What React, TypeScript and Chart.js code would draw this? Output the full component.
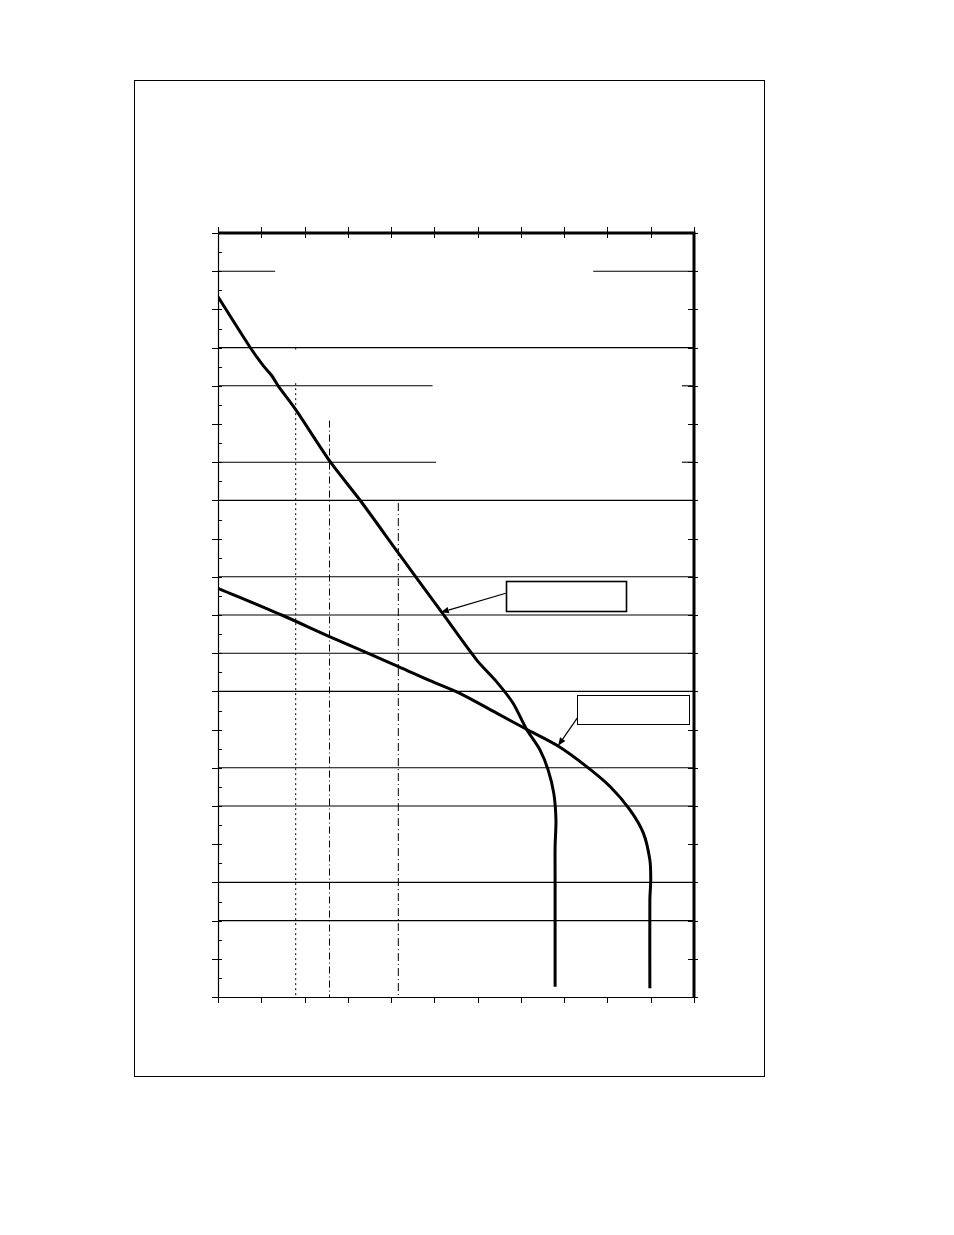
import React, { useEffect, useRef } from "react";
import { Chart, registerables } from "chart.js";

Chart.register(...registerables);

// ---- axes ----
const xMin = 0;
const xMax = 11;
const yMin = 0;
const yMax = 20;
const xMajorTicks = [0, 1, 2, 3, 4, 5, 6, 7, 8, 9, 10, 11];
const yMajorTicks = [0, 1, 2, 3, 4, 5, 6, 7, 8, 9, 10, 11, 12, 13, 14, 15, 16, 17, 18, 19, 20];
const yMinorTicks = [0.5, 1.5, 2.5, 3.5, 4.5, 5.5, 6.5, 7.5, 8.5, 9.5, 10.5, 11.5, 12.5, 13.5, 14.5, 15.5, 16.5, 17.5, 18.5, 19.5];

// ---- curve A (steep) ----
const curveAX = [0.0, 0.74, 1.05, 1.24, 1.39, 1.8, 2.6, 3.28, 4.17, 5.19, 5.98, 6.44, 6.82, 7.13, 7.44, 7.63, 7.76, 7.81, 7.79, 7.79, 7.79];
const curveAY = [1.67, 2.99, 3.48, 3.73, 4.0, 4.63, 6.0, 6.99, 8.38, 9.96, 11.18, 11.75, 12.31, 12.99, 13.53, 14.06, 14.67, 15.37, 16.07, 16.94, 19.73];

// ---- curve B (flatter) ----
const curveBX = [0.0, 1.47, 2.59, 4.17, 4.9, 5.59, 6.44, 7.13, 7.86, 8.52, 9.06, 9.52, 9.83, 9.98, 10.0, 9.98, 9.98];
const curveBY = [9.3, 10.0, 10.57, 11.35, 11.72, 12.05, 12.57, 12.99, 13.43, 13.97, 14.49, 15.1, 15.71, 16.41, 16.94, 17.46, 19.77];

// ---- vertical reference lines ----
const vLineX = [1.796, 1.796, 2.577, 4.167];
const vLineFrom = [3.0, 3.93, 4.91, 7.07];
const vLineTo = [3.09, 20, 20, 20];

// ---- horizontal reference lines ----
const hLineY = [1, 1, 3, 4, 4, 6, 6, 7, 9, 10, 11, 12, 14, 15, 17, 18];
const hLineFrom = [0, 8.67, 0, 0, 10.72, 0, 10.72, 0, 0, 0, 0, 0, 0, 0, 0, 0];
const hLineTo = [1.32, 11, 11, 4.96, 11, 5.04, 11, 11, 11, 11, 11, 11, 11, 11, 11, 11];

// ---- callout boxes and arrows ----
const boxX1 = [6.65, 8.3];
const boxX2 = [9.42, 10.89];
const boxY1 = [9.1, 12.1];
const boxY2 = [9.88, 12.86];
const arrowFromX = [6.65, 8.3];
const arrowFromY = [9.43, 12.7];
const arrowToX = [5.15, 7.86];
const arrowToY = [9.93, 13.42];

const vDashes = [[2, 3], [2, 3], [7, 3, 1, 3], [8, 3, 1, 3]];
const boxWidths = [1.6, 1];

const frameAndTicks = {
  id: "frameAndTicks",
  afterDatasetsDraw(chart: any) {
    const ctx = chart.ctx;
    const xs = chart.scales.x;
    const ys = chart.scales.y;
    const L = xs.getPixelForValue(xMin);
    const R = xs.getPixelForValue(xMax);
    const T = ys.getPixelForValue(yMin);
    const B = ys.getPixelForValue(yMax);
    const s = (v: number) => Math.round(v) + 0.5;
    ctx.save();
    ctx.strokeStyle = "#000";
    ctx.fillStyle = "#000";

    // thin left and bottom axes
    ctx.lineWidth = 1.2;
    ctx.beginPath();
    ctx.moveTo(s(L), T);
    ctx.lineTo(s(L), B);
    ctx.moveTo(L, s(B));
    ctx.lineTo(R, s(B));
    ctx.stroke();

    // thick top and right axes
    ctx.lineWidth = 3;
    ctx.beginPath();
    ctx.moveTo(L, T);
    ctx.lineTo(R + 1.5, T);
    ctx.moveTo(R, T - 1.5);
    ctx.lineTo(R, B);
    ctx.stroke();

    ctx.lineWidth = 1;
    ctx.beginPath();
    xMajorTicks.forEach((v) => {
      const px = s(xs.getPixelForValue(v));
      ctx.moveTo(px, T - 6);
      ctx.lineTo(px, T + 5);
      ctx.moveTo(px, B);
      ctx.lineTo(px, B + 6);
    });
    yMajorTicks.forEach((v) => {
      const py = s(ys.getPixelForValue(v));
      ctx.moveTo(L - 6, py);
      ctx.lineTo(L + 4, py);
      ctx.moveTo(R - 6, py);
      ctx.lineTo(R + 4, py);
    });
    yMinorTicks.forEach((v) => {
      const py = s(ys.getPixelForValue(v));
      ctx.moveTo(L, py);
      ctx.lineTo(L + 4, py);
    });
    ctx.stroke();

    // callouts
    boxX1.forEach((_, i) => {
      const x1 = xs.getPixelForValue(boxX1[i]);
      const x2 = xs.getPixelForValue(boxX2[i]);
      const y1 = ys.getPixelForValue(boxY1[i]);
      const y2 = ys.getPixelForValue(boxY2[i]);
      ctx.fillStyle = "#fff";
      ctx.fillRect(x1, y1, x2 - x1, y2 - y1);
      ctx.lineWidth = boxWidths[i];
      ctx.strokeRect(s(x1), s(y1), Math.round(x2 - x1), Math.round(y2 - y1));

      const ax = xs.getPixelForValue(arrowFromX[i]);
      const ay = ys.getPixelForValue(arrowFromY[i]);
      const tx = xs.getPixelForValue(arrowToX[i]);
      const ty = ys.getPixelForValue(arrowToY[i]);
      const ang = Math.atan2(ty - ay, tx - ax);
      const len = 8;
      const hw = 3.2;
      const bx = tx - len * Math.cos(ang);
      const by = ty - len * Math.sin(ang);
      ctx.lineWidth = 1.2;
      ctx.beginPath();
      ctx.moveTo(ax, ay);
      ctx.lineTo(bx, by);
      ctx.stroke();
      ctx.fillStyle = "#000";
      ctx.beginPath();
      ctx.moveTo(tx, ty);
      ctx.lineTo(bx + hw * Math.sin(ang), by - hw * Math.cos(ang));
      ctx.lineTo(bx - hw * Math.sin(ang), by + hw * Math.cos(ang));
      ctx.closePath();
      ctx.fill();
    });
    ctx.restore();
  },
};

function ChartView() {
  const ref = useRef<HTMLCanvasElement | null>(null);
  useEffect(() => {
    if (!ref.current) return;
    const datasets: any[] = [];
    hLineY.forEach((y, i) => {
      datasets.push({
        label: "h" + i,
        data: [
          { x: hLineFrom[i], y },
          { x: hLineTo[i], y },
        ],
        showLine: true,
        borderColor: "#000",
        borderWidth: 1.1,
        pointRadius: 0,
        clip: 4,
      });
    });
    vLineX.forEach((x, i) => {
      datasets.push({
        label: "v" + i,
        data: [
          { x, y: vLineFrom[i] },
          { x, y: vLineTo[i] },
        ],
        showLine: true,
        borderColor: "#000",
        borderWidth: 1,
        borderDash: vDashes[i],
        pointRadius: 0,
      });
    });
    datasets.push({
      label: "A",
      data: curveAX.map((x, i) => ({ x, y: curveAY[i] })),
      showLine: true,
      borderColor: "#000",
      borderWidth: 3,
      pointRadius: 0,
      tension: 0.25,
    });
    datasets.push({
      label: "B",
      data: curveBX.map((x, i) => ({ x, y: curveBY[i] })),
      showLine: true,
      borderColor: "#000",
      borderWidth: 3,
      pointRadius: 0,
      tension: 0.3,
    });
    const chart = new Chart(ref.current, {
      type: "scatter",
      data: { datasets },
      options: {
        animation: false,
        responsive: false,
        events: [],
        layout: { padding: { left: 218, top: 233, right: 260, bottom: 238 } },
        scales: {
          x: { type: "linear", min: xMin, max: xMax, display: false },
          y: { type: "linear", min: yMin, max: yMax, reverse: true, display: false },
        },
        plugins: { legend: { display: false }, tooltip: { enabled: false } },
      },
      plugins: [frameAndTicks],
    } as any);
    return () => chart.destroy();
  }, []);
  return (
    <canvas
      ref={ref}
      width={954}
      height={1235}
      style={{ position: "absolute", left: 0, top: 0, width: 954, height: 1235 }}
    />
  );
}

export default function App() {
  return (
    <div style={{ position: "absolute", left: 0, top: 0, width: 954, height: 1235, background: "#fff" }}>
      <div
        style={{
          position: "absolute",
          left: 134,
          top: 80,
          width: 631,
          height: 997,
          border: "1px solid #000",
          boxSizing: "border-box",
        }}
      />
      <ChartView />
    </div>
  );
}
